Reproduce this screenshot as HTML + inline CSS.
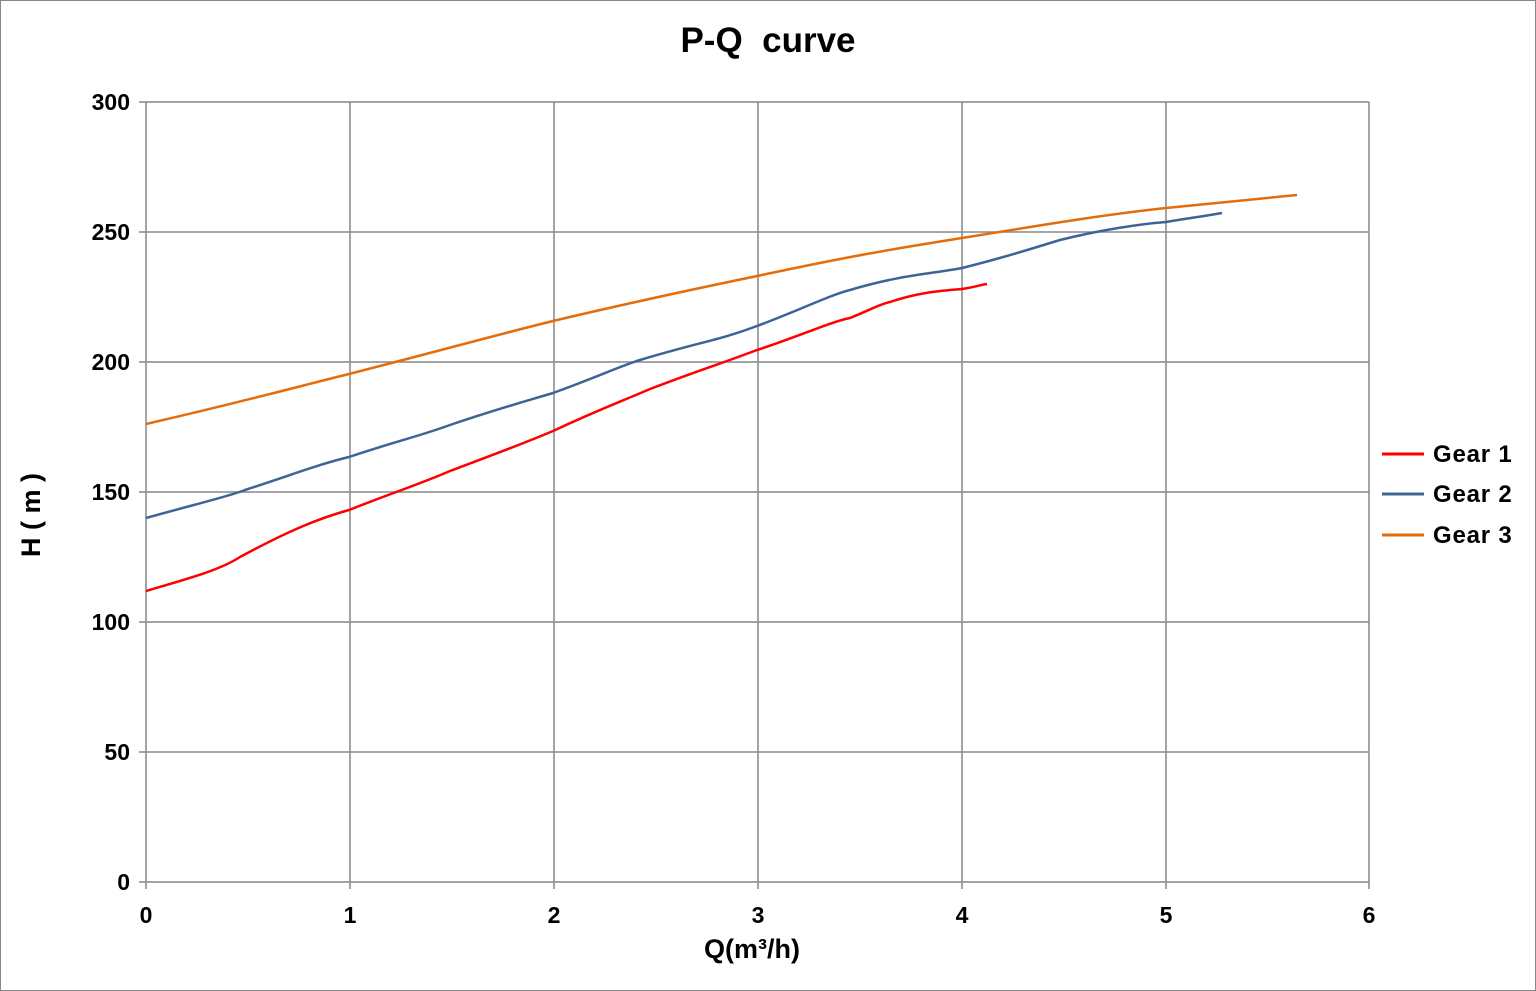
<!DOCTYPE html>
<html><head><meta charset="utf-8"><style>
html,body{margin:0;padding:0;background:#fff;}
svg{display:block;font-family:"Liberation Sans",sans-serif;font-weight:bold;}
</style></head><body>
<svg width="1536" height="991" viewBox="0 0 1536 991" xmlns="http://www.w3.org/2000/svg">
<rect x="0.5" y="0.5" width="1535" height="990" fill="#fff" stroke="#868686"/>
<text x="768" y="52" font-size="35" text-anchor="middle" style="white-space:pre" xml:space="preserve">P-Q  curve</text>
<g stroke="#878787" stroke-width="1.5">
<line x1="146" y1="102" x2="1369" y2="102"/>
<line x1="146" y1="232" x2="1369" y2="232"/>
<line x1="146" y1="362" x2="1369" y2="362"/>
<line x1="146" y1="492" x2="1369" y2="492"/>
<line x1="146" y1="622" x2="1369" y2="622"/>
<line x1="146" y1="752" x2="1369" y2="752"/>
<line x1="146" y1="882" x2="1369" y2="882"/>
<line x1="146" y1="102" x2="146" y2="889"/>
<line x1="350" y1="102" x2="350" y2="889"/>
<line x1="554" y1="102" x2="554" y2="889"/>
<line x1="758" y1="102" x2="758" y2="889"/>
<line x1="962" y1="102" x2="962" y2="889"/>
<line x1="1166" y1="102" x2="1166" y2="889"/>
<line x1="1369" y1="102" x2="1369" y2="889"/>
<line x1="139" y1="102" x2="146" y2="102"/>
<line x1="139" y1="232" x2="146" y2="232"/>
<line x1="139" y1="362" x2="146" y2="362"/>
<line x1="139" y1="492" x2="146" y2="492"/>
<line x1="139" y1="622" x2="146" y2="622"/>
<line x1="139" y1="752" x2="146" y2="752"/>
<line x1="139" y1="882" x2="146" y2="882"/>
</g>
<g font-size="23" text-anchor="end">
<text x="130" y="110">300</text>
<text x="130" y="240">250</text>
<text x="130" y="370">200</text>
<text x="130" y="500">150</text>
<text x="130" y="630">100</text>
<text x="130" y="760">50</text>
<text x="130" y="890">0</text>
</g>
<g font-size="23" text-anchor="middle">
<text x="146" y="923">0</text>
<text x="350" y="923">1</text>
<text x="554" y="923">2</text>
<text x="758" y="923">3</text>
<text x="962" y="923">4</text>
<text x="1166" y="923">5</text>
<text x="1369" y="923">6</text>
</g>
<text x="752" y="958" font-size="27" text-anchor="middle">Q(m³/h)</text>
<text transform="translate(40,515) rotate(-90)" font-size="27" text-anchor="middle">H ( m )</text>
<g fill="none" stroke-width="2.5" stroke-linejoin="round">
<path stroke="#e46c0a" d="M146,424 C250,400 300,386 349,374 C450,348 500,334 553,321 C650,298 700,288 757,276 C860,254 900,248 962,238 C1060,222 1110,214 1166,208 C1220,203 1260,199 1297,195"/>
<path stroke="#3e6496" d="M146,518 C200,503 230,496 245,490 C300,472 320,464 349,457 C400,440 420,436 450,425 C500,408 530,400 553,393 C600,376 620,366 640,360 C700,342 720,340 757,326 C800,310 830,295 850,290 C900,275 930,274 962,268 C1010,256 1040,246 1060,240 C1100,230 1140,224 1166,222 C1190,218 1205,216 1222,213"/>
<path stroke="#ff0000" d="M146,591 C190,578 220,570 240,557 C290,530 320,518 349,510 C400,490 420,484 450,471 C500,452 520,445 553,431 C600,409 620,402 650,389 C700,370 720,364 757,350 C800,336 830,322 850,318 C870,310 880,304 890,302 C920,292 940,291 962,289 C975,287 980,285 987,284"/>
</g>
<line x1="1382" y1="454" x2="1424" y2="454" stroke="#ff0000" stroke-width="3"/>
<line x1="1382" y1="494" x2="1424" y2="494" stroke="#3e6496" stroke-width="3"/>
<line x1="1382" y1="535" x2="1424" y2="535" stroke="#e46c0a" stroke-width="3"/>
<g font-size="24" letter-spacing="0.8">
<text x="1433" y="462">Gear 1</text>
<text x="1433" y="502">Gear 2</text>
<text x="1433" y="543">Gear 3</text>
</g>
</svg>
</body></html>
